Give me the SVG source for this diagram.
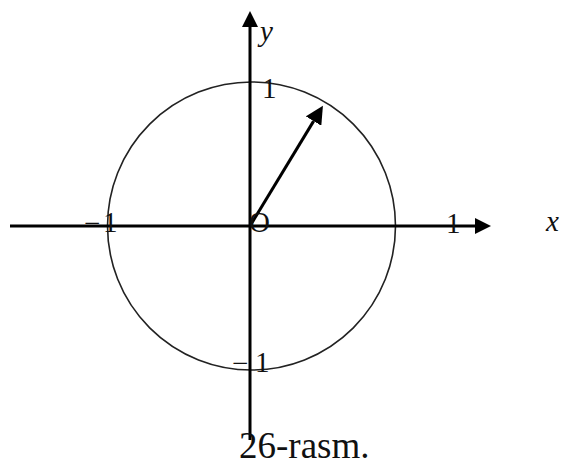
<svg xmlns="http://www.w3.org/2000/svg" width="563" height="465" viewBox="0 0 563 465">
  <style>
    .axis { stroke: #000; stroke-width: 3; fill: none; }
    .circ { stroke: #222; stroke-width: 1.6; fill: none; }
    .lbl { font-family: "Liberation Serif", "Times New Roman", serif; font-size: 29px; fill: #111; }
    .it { font-style: italic; }
    .cap { font-family: "Liberation Serif", "Times New Roman", serif; font-size: 37px; fill: #111; }
  </style>
  <defs>
    <marker id="arr" viewBox="0 0 16 16" refX="0" refY="8" markerWidth="16" markerHeight="16" markerUnits="userSpaceOnUse" orient="auto">
      <path d="M0,0 L16,8 L0,16 z" fill="#000"/>
    </marker>
    <marker id="arr2" viewBox="0 0 18 18" refX="0" refY="9" markerWidth="18" markerHeight="18" markerUnits="userSpaceOnUse" orient="auto">
      <path d="M0,0 L18,9 L0,18 z" fill="#000"/>
    </marker>
  </defs>
  <rect width="563" height="465" fill="#fff"/>
  <g id="unit-circle">
    <circle class="circ" cx="251.5" cy="226" r="144"/>
  </g>
  <g id="connectors">
    <line id="x-axis" class="axis" x1="10" y1="226" x2="475" y2="226" marker-end="url(#arr)"/>
    <line id="y-axis" class="axis" x1="250" y1="440" x2="250" y2="27" marker-end="url(#arr)"/>
    <line id="vector" class="axis" x1="250" y1="226" x2="313.6" y2="121.1" marker-end="url(#arr2)"/>
  </g>
  <g id="labels">
    <text class="lbl it" x="260" y="41">y</text>
    <text class="lbl it" x="546" y="231">x</text>
    <text class="lbl" x="262" y="98">1</text>
    <text class="lbl" x="446" y="233">1</text>
    <text class="lbl" x="84" y="233">−</text>
    <text class="lbl" x="103" y="232">1</text>
    <text class="lbl" x="232" y="373">−</text>
    <text class="lbl" x="255" y="372">1</text>
    <text class="lbl" x="249" y="232" font-size="26">O</text>
  </g>
  <g id="caption">
    <text class="cap" x="239" y="458">26-rasm.</text>
  </g>
</svg>
